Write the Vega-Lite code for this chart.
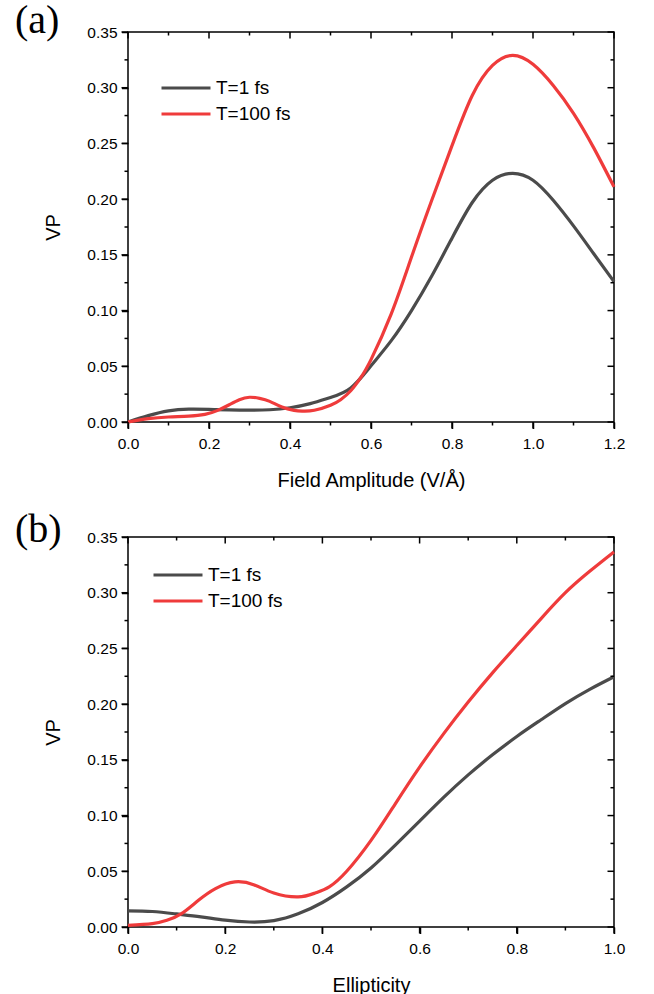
{
  "$schema": "https://vega.github.io/schema/vega-lite/v6.json",
  "background": "white",
  "autosize": {"type": "pad"},
  "padding": {"left": 14, "top": 0, "right": 10, "bottom": 5},
  "config": {
    "font": "Liberation Sans",
    "view": {"stroke": "black", "strokeWidth": 1.5},
    "axis": {
      "domain": false, "ticks": true, "tickColor": "#000000", "tickOpacity": 1, "tickWidth": 1.5,
      "labelColor": "black", "labelFont": "Liberation Sans", "labelFontSize": 15.5,
      "titleFont": "Liberation Sans", "titleFontSize": 20, "titleFontWeight": "normal", "titleColor": "black",
      "grid": false, "labelFlush": false, "labelOverlap": false
    },
    "legend": {
      "orient": "none", "symbolType": "M-2,0L2,0", "symbolSize": 600, "symbolStrokeWidth": 3.2,
      "labelFont": "Liberation Sans", "labelFontSize": 19, "labelColor": "black", "labelLimit": 0,
      "padding": 0, "labelOffset": 16, "rowPadding": 2
    },
    "title": {"font": "Liberation Serif", "fontSize": 40, "fontWeight": "normal", "color": "black", "anchor": "start", "frame": "group", "baseline": "alphabetic"}
  },
  "datasets": {
    "xa_major": [{"v": 0}, {"v": 0.2}, {"v": 0.4}, {"v": 0.6}, {"v": 0.8}, {"v": 1.0}, {"v": 1.2}],
    "xa_minor": [{"v": 0.1}, {"v": 0.3}, {"v": 0.5}, {"v": 0.7}, {"v": 0.9}, {"v": 1.1}],
    "xb_major": [{"v": 0}, {"v": 0.2}, {"v": 0.4}, {"v": 0.6}, {"v": 0.8}, {"v": 1.0}],
    "xb_minor": [{"v": 0.1}, {"v": 0.3}, {"v": 0.5}, {"v": 0.7}, {"v": 0.9}],
    "y_major": [{"v": 0}, {"v": 0.05}, {"v": 0.1}, {"v": 0.15}, {"v": 0.2}, {"v": 0.25}, {"v": 0.3}, {"v": 0.35}],
    "y_minor": [{"v": 0.025}, {"v": 0.075}, {"v": 0.125}, {"v": 0.175}, {"v": 0.225}, {"v": 0.275}, {"v": 0.325}],
    "a": [
      {"x": 0, "vp": 0, "s": "T=1 fs"},
      {"x": 0.05, "vp": 0.0057, "s": "T=1 fs"},
      {"x": 0.1, "vp": 0.0100, "s": "T=1 fs"},
      {"x": 0.15, "vp": 0.0115, "s": "T=1 fs"},
      {"x": 0.2, "vp": 0.0113, "s": "T=1 fs"},
      {"x": 0.25, "vp": 0.0108, "s": "T=1 fs"},
      {"x": 0.3, "vp": 0.0106, "s": "T=1 fs"},
      {"x": 0.35, "vp": 0.0110, "s": "T=1 fs"},
      {"x": 0.4, "vp": 0.0128, "s": "T=1 fs"},
      {"x": 0.45, "vp": 0.0165, "s": "T=1 fs"},
      {"x": 0.5, "vp": 0.0220, "s": "T=1 fs"},
      {"x": 0.55, "vp": 0.0305, "s": "T=1 fs"},
      {"x": 0.6, "vp": 0.0505, "s": "T=1 fs"},
      {"x": 0.65, "vp": 0.073, "s": "T=1 fs"},
      {"x": 0.7, "vp": 0.100, "s": "T=1 fs"},
      {"x": 0.75, "vp": 0.131, "s": "T=1 fs"},
      {"x": 0.8, "vp": 0.165, "s": "T=1 fs"},
      {"x": 0.85, "vp": 0.197, "s": "T=1 fs"},
      {"x": 0.9, "vp": 0.217, "s": "T=1 fs"},
      {"x": 0.95, "vp": 0.2232, "s": "T=1 fs"},
      {"x": 1.0, "vp": 0.217, "s": "T=1 fs"},
      {"x": 1.05, "vp": 0.199, "s": "T=1 fs"},
      {"x": 1.1, "vp": 0.176, "s": "T=1 fs"},
      {"x": 1.15, "vp": 0.151, "s": "T=1 fs"},
      {"x": 1.2, "vp": 0.126, "s": "T=1 fs"},
      {"x": 0, "vp": 0, "s": "T=100 fs"},
      {"x": 0.05, "vp": 0.003, "s": "T=100 fs"},
      {"x": 0.1, "vp": 0.0045, "s": "T=100 fs"},
      {"x": 0.15, "vp": 0.0052, "s": "T=100 fs"},
      {"x": 0.19, "vp": 0.0068, "s": "T=100 fs"},
      {"x": 0.22, "vp": 0.0102, "s": "T=100 fs"},
      {"x": 0.25, "vp": 0.0155, "s": "T=100 fs"},
      {"x": 0.275, "vp": 0.0200, "s": "T=100 fs"},
      {"x": 0.3, "vp": 0.0222, "s": "T=100 fs"},
      {"x": 0.325, "vp": 0.0212, "s": "T=100 fs"},
      {"x": 0.35, "vp": 0.0185, "s": "T=100 fs"},
      {"x": 0.38, "vp": 0.0134, "s": "T=100 fs"},
      {"x": 0.41, "vp": 0.0105, "s": "T=100 fs"},
      {"x": 0.43, "vp": 0.0098, "s": "T=100 fs"},
      {"x": 0.46, "vp": 0.0105, "s": "T=100 fs"},
      {"x": 0.5, "vp": 0.0150, "s": "T=100 fs"},
      {"x": 0.525, "vp": 0.0200, "s": "T=100 fs"},
      {"x": 0.55, "vp": 0.0280, "s": "T=100 fs"},
      {"x": 0.575, "vp": 0.040, "s": "T=100 fs"},
      {"x": 0.6, "vp": 0.056, "s": "T=100 fs"},
      {"x": 0.65, "vp": 0.097, "s": "T=100 fs"},
      {"x": 0.7, "vp": 0.148, "s": "T=100 fs"},
      {"x": 0.75, "vp": 0.199, "s": "T=100 fs"},
      {"x": 0.8, "vp": 0.248, "s": "T=100 fs"},
      {"x": 0.85, "vp": 0.293, "s": "T=100 fs"},
      {"x": 0.9, "vp": 0.320, "s": "T=100 fs"},
      {"x": 0.95, "vp": 0.329, "s": "T=100 fs"},
      {"x": 1.0, "vp": 0.321, "s": "T=100 fs"},
      {"x": 1.05, "vp": 0.302, "s": "T=100 fs"},
      {"x": 1.1, "vp": 0.277, "s": "T=100 fs"},
      {"x": 1.15, "vp": 0.246, "s": "T=100 fs"},
      {"x": 1.2, "vp": 0.211, "s": "T=100 fs"}
    ],
    "b": [
      {"x": 0, "vp": 0.0145, "s": "T=1 fs"},
      {"x": 0.05, "vp": 0.0139, "s": "T=1 fs"},
      {"x": 0.1, "vp": 0.0117, "s": "T=1 fs"},
      {"x": 0.15, "vp": 0.0091, "s": "T=1 fs"},
      {"x": 0.2, "vp": 0.0062, "s": "T=1 fs"},
      {"x": 0.25, "vp": 0.0045, "s": "T=1 fs"},
      {"x": 0.3, "vp": 0.0057, "s": "T=1 fs"},
      {"x": 0.35, "vp": 0.0118, "s": "T=1 fs"},
      {"x": 0.4, "vp": 0.022, "s": "T=1 fs"},
      {"x": 0.45, "vp": 0.036, "s": "T=1 fs"},
      {"x": 0.5, "vp": 0.053, "s": "T=1 fs"},
      {"x": 0.55, "vp": 0.0735, "s": "T=1 fs"},
      {"x": 0.6, "vp": 0.095, "s": "T=1 fs"},
      {"x": 0.65, "vp": 0.1165, "s": "T=1 fs"},
      {"x": 0.7, "vp": 0.1365, "s": "T=1 fs"},
      {"x": 0.75, "vp": 0.1545, "s": "T=1 fs"},
      {"x": 0.8, "vp": 0.171, "s": "T=1 fs"},
      {"x": 0.85, "vp": 0.186, "s": "T=1 fs"},
      {"x": 0.9, "vp": 0.2005, "s": "T=1 fs"},
      {"x": 0.95, "vp": 0.2133, "s": "T=1 fs"},
      {"x": 1.0, "vp": 0.2246, "s": "T=1 fs"},
      {"x": 0, "vp": 0.0015, "s": "T=100 fs"},
      {"x": 0.05, "vp": 0.003, "s": "T=100 fs"},
      {"x": 0.08, "vp": 0.006, "s": "T=100 fs"},
      {"x": 0.11, "vp": 0.012, "s": "T=100 fs"},
      {"x": 0.145, "vp": 0.024, "s": "T=100 fs"},
      {"x": 0.18, "vp": 0.0345, "s": "T=100 fs"},
      {"x": 0.22, "vp": 0.0405, "s": "T=100 fs"},
      {"x": 0.26, "vp": 0.0378, "s": "T=100 fs"},
      {"x": 0.3, "vp": 0.0305, "s": "T=100 fs"},
      {"x": 0.35, "vp": 0.0270, "s": "T=100 fs"},
      {"x": 0.385, "vp": 0.0305, "s": "T=100 fs"},
      {"x": 0.414, "vp": 0.036, "s": "T=100 fs"},
      {"x": 0.45, "vp": 0.050, "s": "T=100 fs"},
      {"x": 0.5, "vp": 0.0777, "s": "T=100 fs"},
      {"x": 0.55, "vp": 0.1106, "s": "T=100 fs"},
      {"x": 0.6, "vp": 0.1435, "s": "T=100 fs"},
      {"x": 0.65, "vp": 0.1738, "s": "T=100 fs"},
      {"x": 0.7, "vp": 0.2019, "s": "T=100 fs"},
      {"x": 0.75, "vp": 0.2281, "s": "T=100 fs"},
      {"x": 0.8, "vp": 0.2526, "s": "T=100 fs"},
      {"x": 0.85, "vp": 0.2768, "s": "T=100 fs"},
      {"x": 0.9, "vp": 0.3000, "s": "T=100 fs"},
      {"x": 0.95, "vp": 0.3192, "s": "T=100 fs"},
      {"x": 1.0, "vp": 0.3366, "s": "T=100 fs"}
    ]
  },
  "bounds": "flush",
  "spacing": 115,
  "resolve": {"scale": {"color": "independent"}, "legend": {"color": "independent"}},
  "vconcat": [
    {
      "width": 486, "height": 390,
      "title": {"text": "(a)", "dx": -113, "offset": -16},
      "layer": [
        {
          "data": {"name": "a"},
          "mark": {"type": "line", "strokeWidth": 3.2, "interpolate": "natural"},
          "encoding": {
            "x": {"field": "x", "type": "quantitative", "scale": {"domain": [0, 1.2], "nice": false},
              "axis": {"orient": "bottom", "values": [0, 0.2, 0.4, 0.6, 0.8, 1.0, 1.2], "format": ".1f", "tickSize": 6.5,
                "labelPadding": 8, "title": "Field Amplitude (V/Å)", "titlePadding": 18}},
            "y": {"field": "vp", "type": "quantitative", "scale": {"domain": [0, 0.35], "nice": false},
              "axis": {"orient": "left", "values": [0, 0.05, 0.1, 0.15, 0.2, 0.25, 0.3, 0.35], "format": ".2f", "tickSize": 6.5,
                "labelPadding": 4.5, "title": "VP", "titlePadding": 23}},
            "color": {"field": "s", "type": "nominal",
              "scale": {"domain": ["T=1 fs", "T=100 fs"], "range": ["#4b4b4b", "#ef3b3b"]},
              "legend": {"title": null, "legendX": 44, "legendY": 42}}
          }
        },
        {
          "data": {"name": "xa_major"},
          "mark": {"type": "tick", "orient": "vertical", "size": 6.5, "thickness": 1.5, "color": "black", "opacity": 1, "yOffset": 3.25},
          "encoding": {"x": {"field": "v", "type": "quantitative"}, "y": {"datum": 0, "type": "quantitative"}}
        },
        {
          "data": {"name": "xa_minor"},
          "mark": {"type": "tick", "orient": "vertical", "size": 3.5, "thickness": 1.5, "color": "black", "opacity": 1, "yOffset": 1.75},
          "encoding": {"x": {"field": "v", "type": "quantitative"}, "y": {"datum": 0, "type": "quantitative"}}
        },
        {
          "data": {"name": "xa_major"},
          "mark": {"type": "tick", "orient": "vertical", "size": 6.5, "thickness": 1.5, "color": "black", "opacity": 1, "yOffset": 3.25},
          "encoding": {"x": {"field": "v", "type": "quantitative"}, "y": {"datum": 0.35, "type": "quantitative"}}
        },
        {
          "data": {"name": "xa_minor"},
          "mark": {"type": "tick", "orient": "vertical", "size": 3.5, "thickness": 1.5, "color": "black", "opacity": 1, "yOffset": 1.75},
          "encoding": {"x": {"field": "v", "type": "quantitative"}, "y": {"datum": 0.35, "type": "quantitative"}}
        },
        {
          "data": {"name": "y_major"},
          "mark": {"type": "tick", "orient": "horizontal", "size": 6.5, "thickness": 1.5, "color": "black", "opacity": 1, "xOffset": -3.25},
          "encoding": {"y": {"field": "v", "type": "quantitative"}, "x": {"datum": 0, "type": "quantitative"}}
        },
        {
          "data": {"name": "y_minor"},
          "mark": {"type": "tick", "orient": "horizontal", "size": 3.5, "thickness": 1.5, "color": "black", "opacity": 1, "xOffset": -1.75},
          "encoding": {"y": {"field": "v", "type": "quantitative"}, "x": {"datum": 0, "type": "quantitative"}}
        },
        {
          "data": {"name": "y_major"},
          "mark": {"type": "tick", "orient": "horizontal", "size": 6.5, "thickness": 1.5, "color": "black", "opacity": 1, "xOffset": -3.25},
          "encoding": {"y": {"field": "v", "type": "quantitative"}, "x": {"datum": 1.2, "type": "quantitative"}}
        },
        {
          "data": {"name": "y_minor"},
          "mark": {"type": "tick", "orient": "horizontal", "size": 3.5, "thickness": 1.5, "color": "black", "opacity": 1, "xOffset": -1.75},
          "encoding": {"y": {"field": "v", "type": "quantitative"}, "x": {"datum": 1.2, "type": "quantitative"}}
        }
      ]
    },
    {
      "width": 486, "height": 390,
      "title": {"text": "(b)", "dx": -113, "offset": -20},
      "layer": [
        {
          "data": {"name": "b"},
          "mark": {"type": "line", "strokeWidth": 3.2, "interpolate": "natural"},
          "encoding": {
            "x": {"field": "x", "type": "quantitative", "scale": {"domain": [0, 1], "nice": false},
              "axis": {"orient": "bottom", "values": [0, 0.2, 0.4, 0.6, 0.8, 1.0], "format": ".1f", "tickSize": 6.5,
                "labelPadding": 8, "title": "Ellipticity", "titlePadding": 18}},
            "y": {"field": "vp", "type": "quantitative", "scale": {"domain": [0, 0.35], "nice": false},
              "axis": {"orient": "left", "values": [0, 0.05, 0.1, 0.15, 0.2, 0.25, 0.3, 0.35], "format": ".2f", "tickSize": 6.5,
                "labelPadding": 4.5, "title": "VP", "titlePadding": 23}},
            "color": {"field": "s", "type": "nominal",
              "scale": {"domain": ["T=1 fs", "T=100 fs"], "range": ["#4b4b4b", "#ef3b3b"]},
              "legend": {"title": null, "legendX": 36, "legendY": 24}}
          }
        },
        {
          "data": {"name": "xb_major"},
          "mark": {"type": "tick", "orient": "vertical", "size": 6.5, "thickness": 1.5, "color": "black", "opacity": 1, "yOffset": 3.25},
          "encoding": {"x": {"field": "v", "type": "quantitative"}, "y": {"datum": 0, "type": "quantitative"}}
        },
        {
          "data": {"name": "xb_minor"},
          "mark": {"type": "tick", "orient": "vertical", "size": 3.5, "thickness": 1.5, "color": "black", "opacity": 1, "yOffset": 1.75},
          "encoding": {"x": {"field": "v", "type": "quantitative"}, "y": {"datum": 0, "type": "quantitative"}}
        },
        {
          "data": {"name": "xb_major"},
          "mark": {"type": "tick", "orient": "vertical", "size": 6.5, "thickness": 1.5, "color": "black", "opacity": 1, "yOffset": 3.25},
          "encoding": {"x": {"field": "v", "type": "quantitative"}, "y": {"datum": 0.35, "type": "quantitative"}}
        },
        {
          "data": {"name": "xb_minor"},
          "mark": {"type": "tick", "orient": "vertical", "size": 3.5, "thickness": 1.5, "color": "black", "opacity": 1, "yOffset": 1.75},
          "encoding": {"x": {"field": "v", "type": "quantitative"}, "y": {"datum": 0.35, "type": "quantitative"}}
        },
        {
          "data": {"name": "y_major"},
          "mark": {"type": "tick", "orient": "horizontal", "size": 6.5, "thickness": 1.5, "color": "black", "opacity": 1, "xOffset": -3.25},
          "encoding": {"y": {"field": "v", "type": "quantitative"}, "x": {"datum": 0, "type": "quantitative"}}
        },
        {
          "data": {"name": "y_minor"},
          "mark": {"type": "tick", "orient": "horizontal", "size": 3.5, "thickness": 1.5, "color": "black", "opacity": 1, "xOffset": -1.75},
          "encoding": {"y": {"field": "v", "type": "quantitative"}, "x": {"datum": 0, "type": "quantitative"}}
        },
        {
          "data": {"name": "y_major"},
          "mark": {"type": "tick", "orient": "horizontal", "size": 6.5, "thickness": 1.5, "color": "black", "opacity": 1, "xOffset": -3.25},
          "encoding": {"y": {"field": "v", "type": "quantitative"}, "x": {"datum": 1, "type": "quantitative"}}
        },
        {
          "data": {"name": "y_minor"},
          "mark": {"type": "tick", "orient": "horizontal", "size": 3.5, "thickness": 1.5, "color": "black", "opacity": 1, "xOffset": -1.75},
          "encoding": {"y": {"field": "v", "type": "quantitative"}, "x": {"datum": 1, "type": "quantitative"}}
        }
      ]
    }
  ]
}
